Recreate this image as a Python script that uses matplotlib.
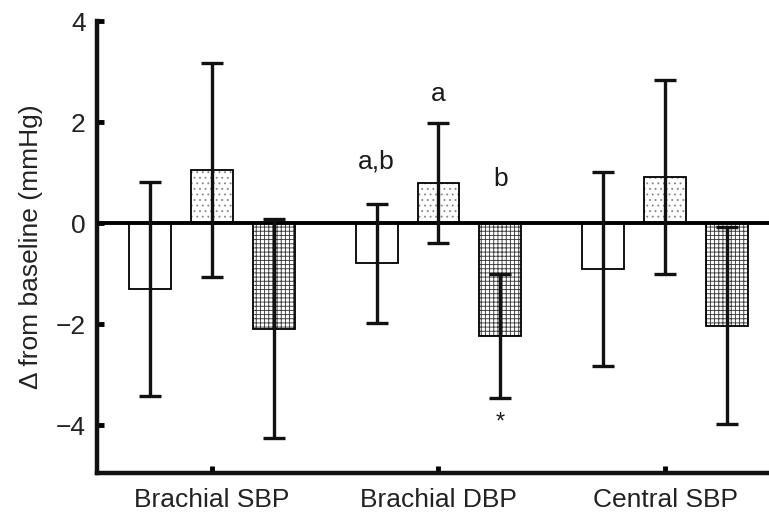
import matplotlib
matplotlib.use("Agg")
import matplotlib.pyplot as plt
import numpy as np

plt.rcParams['font.family'] = ['Liberation Sans', 'DejaVu Sans']
plt.rcParams['hatch.linewidth'] = 0.65

categories = ["Brachial SBP", "Brachial DBP", "Central SBP"]
series_names = ["Group 1", "Group 2", "Group 3"]
means = {
    "Group 1": [-1.31, -0.80, -0.91],
    "Group 2": [1.05, 0.80, 0.92],
    "Group 3": [-2.09, -2.24, -2.03],
}
errors = {
    "Group 1": [2.12, 1.17, 1.92],
    "Group 2": [2.12, 1.19, 1.92],
    "Group 3": [2.17, 1.23, 1.95],
}
annotations = [  # (category index, series index, text, y)
    (1, 0, "a,b", 1.22),
    (1, 1, "a", 2.55),
    (1, 2, "b", 0.88),
    (1, 2, "*", -3.95),
]
yticks = [-4, -2, 0, 2, 4]
ytick_labels = ["\u22124", "\u22122", "0", "2", "4"]

fig = plt.figure(figsize=(7.69, 5.14), dpi=100)
ax = fig.add_axes([0.126, 0.0798, 0.874, 0.879])

x = np.arange(len(categories))
offsets = [-0.273, 0.0, 0.273]
width = 0.185
hatches = [None, "...", "++++"]
hatch_colors = ["black", "#8a8a8a", "#3a3a3a"]

for i, name in enumerate(series_names):
    xs = x + offsets[i]
    if hatches[i]:
        ax.bar(xs, means[name], width=width, color="white", edgecolor=hatch_colors[i],
               hatch=hatches[i], linewidth=0, zorder=2)
    ax.bar(xs, means[name], width=width, color="none", edgecolor="black",
           linewidth=1.3, zorder=3)
    ax.errorbar(xs, means[name], yerr=errors[name], fmt="none", ecolor="#111111",
                elinewidth=2.4, capsize=8, capthick=2.4, zorder=5)

ax.axhline(0, color="black", linewidth=2.8, zorder=4)

for ci, si, txt, yv in annotations:
    ax.text(x[ci] + offsets[si], yv, txt, ha="center", va="center",
            fontsize=19 if txt != "*" else 17, color="#1a1a1a")

ax.set_xlim(-0.508, 2.459)
ax.set_ylim(-4.95, 4.0)
ax.set_xticks(x)
ax.set_xticklabels(categories)
ax.set_yticks(yticks)
ax.set_yticklabels(ytick_labels)
ax.tick_params(axis="both", direction="in", length=5, width=3.5, labelsize=19,
               colors="black", labelcolor="#222222", pad=8)
ax.tick_params(axis="x", pad=11)

for s in ["top", "right"]:
    ax.spines[s].set_visible(False)
for s in ["left", "bottom"]:
    ax.spines[s].set_linewidth(3.2)
    ax.spines[s].set_color("#111111")

ax.set_ylabel("\u0394 from baseline (mmHg)", fontsize=19, color="#222222")
ax.yaxis.set_label_coords(-0.08, 0.5)

fig.savefig("out.png", dpi=100)
